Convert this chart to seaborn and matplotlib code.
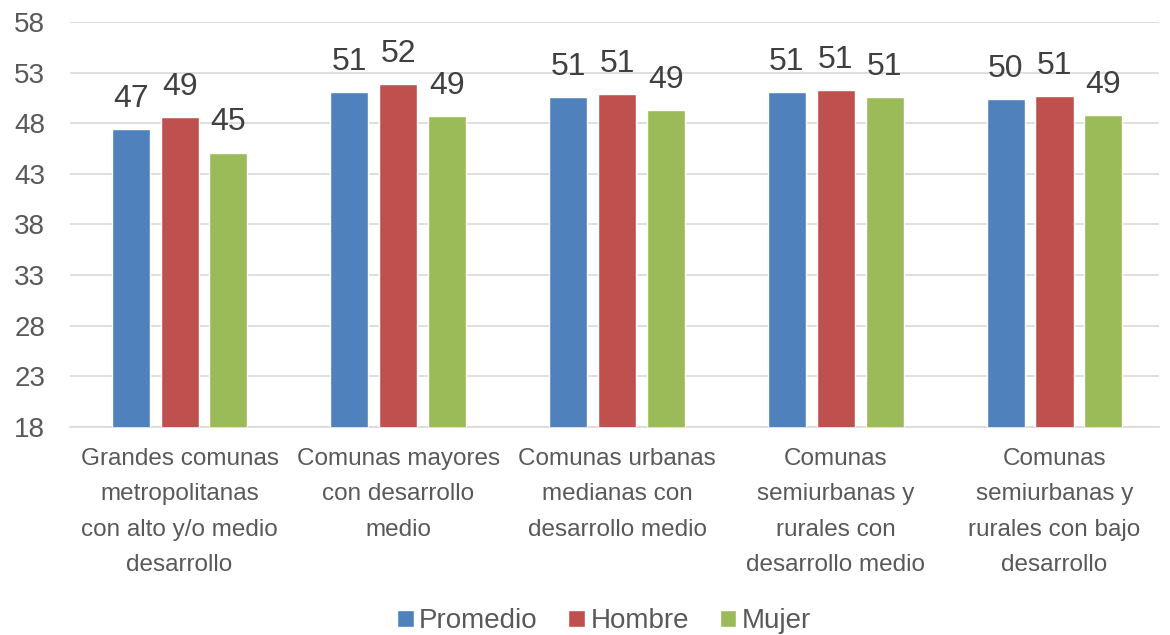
import matplotlib
matplotlib.use("Agg")
import matplotlib.pyplot as plt
import seaborn as sns
import pandas as pd

categories = [
    "Grandes comunas\nmetropolitanas\ncon alto y/o medio\ndesarrollo",
    "Comunas mayores\ncon desarrollo\nmedio",
    "Comunas urbanas\nmedianas con\ndesarrollo medio",
    "Comunas\nsemiurbanas y\nrurales con\ndesarrollo medio",
    "Comunas\nsemiurbanas y\nrurales con bajo\ndesarrollo",
]
series = ["Promedio", "Hombre", "Mujer"]
promedio = [47.4, 51.1, 50.6, 51.1, 50.4]
hombre = [48.6, 51.9, 50.9, 51.3, 50.7]
mujer = [45.1, 48.7, 49.3, 50.6, 48.8]
yticks = [18, 23, 28, 33, 38, 43, 48, 53, 58]
colors = ["#4F81BD", "#C0504D", "#9BBB59"]

rows = []
for s, vals in zip(series, [promedio, hombre, mujer]):
    for c, v in zip(categories, vals):
        rows.append({"cat": c, "serie": s, "valor": v})
df = pd.DataFrame(rows)

sns.set_style("white")
plt.rcParams["font.family"] = ["Liberation Sans", "DejaVu Sans"]

fig = plt.figure(figsize=(11.7, 6.35), dpi=100)
ax = fig.add_axes([0.06, 0.328, 0.931, 0.637])

sns.barplot(data=df, x="cat", y="valor", hue="serie", order=categories,
            hue_order=series, palette=colors, saturation=1, width=0.67, gap=0.22,
            ax=ax, legend=True, zorder=3)

ax.set_ylim(18, 58)
ax.set_yticks(yticks)
ax.set_yticklabels([str(t) for t in yticks], fontsize=20, color="#595959")
ax.set_xlim(-0.5, 4.48)
ax.set_xticks(range(len(categories)))
ax.set_xticklabels(categories, fontsize=17.5, color="#595959", linespacing=1.8)
ax.tick_params(axis="x", length=0, pad=15)
ax.tick_params(axis="y", length=0, pad=18)
ax.set_xlabel("")
ax.set_ylabel("")
ax.yaxis.grid(True, color="#D9D9D9", linewidth=1.2, zorder=0)
ax.set_axisbelow(True)
for side in ["top", "right", "left"]:
    ax.spines[side].set_visible(False)
ax.spines["bottom"].set_color("#D9D9D9")
ax.spines["bottom"].set_linewidth(1.2)

for cont in ax.containers:
    ax.bar_label(cont, labels=[f"{v:.0f}" for v in cont.datavalues],
                 fontsize=23, color="#404040", padding=11)

handles, labels = ax.get_legend_handles_labels()
ax.legend(handles, labels, loc="lower center", bbox_to_anchor=(0.49, -0.575),
          ncol=3, frameon=False, fontsize=20, handlelength=0.6, handleheight=0.6,
          handletextpad=0.2, columnspacing=1.1, labelcolor="#595959")

fig.savefig("out.png", dpi=100)
